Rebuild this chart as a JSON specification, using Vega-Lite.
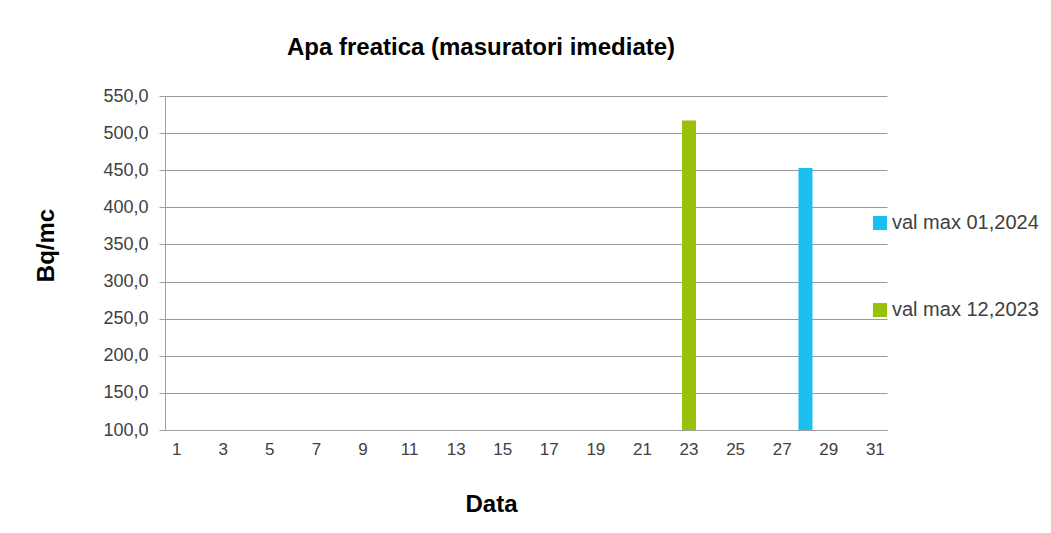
{
  "$schema": "https://vega.github.io/schema/vega-lite/v6.json",
  "width": 722,
  "height": 334,
  "autosize": "none",
  "padding": {"left": 165, "top": 96, "right": 164, "bottom": 103},
  "background": "white",
  "title": {
    "text": "Apa freatica (masuratori imediate)",
    "font": "Liberation Sans",
    "fontSize": 24,
    "fontWeight": "bold",
    "color": "#000000",
    "anchor": "middle",
    "dx": -45,
    "offset": 27
  },
  "data": {
    "values": [
      {"zi": 23, "valoare": 517, "serie": "val max 12,2023"},
      {"zi": 28, "valoare": 453, "serie": "val max 01,2024"}
    ]
  },
  "mark": {"type": "bar", "width": 14, "clip": true},
  "encoding": {
    "x": {
      "field": "zi",
      "type": "ordinal",
      "scale": {"domain": [1,2,3,4,5,6,7,8,9,10,11,12,13,14,15,16,17,18,19,20,21,22,23,24,25,26,27,28,29,30,31], "paddingInner": 0, "paddingOuter": 0},
      "axis": {
        "title": "Data",
        "values": [1,3,5,7,9,11,13,15,17,19,21,23,25,27,29,31],
        "labelAngle": 0,
        "ticks": false,
        "labelPadding": 11,
        "titlePadding": 35,
        "titleX": 326,
        "domainColor": "#a0a0a0",
        "grid": false
      }
    },
    "y": {
      "field": "valoare",
      "type": "quantitative",
      "scale": {"domain": [100, 550], "zero": false, "nice": false},
      "axis": {
        "title": "Bq/mc",
        "values": [100,150,200,250,300,350,400,450,500,550],
        "labelExpr": "replace(format(datum.value, '.1f'), '.', ',')",
        "tickSize": 6,
        "labelPadding": 11,
        "labelFontSize": 18,
        "titlePadding": 44,
        "titleY": 149,
        "domain": true,
        "domainColor": "#a0a0a0",
        "tickColor": "#a0a0a0",
        "gridColor": "#999999",
        "gridWidth": 1
      }
    },
    "y2": {"datum": 100},
    "color": {
      "field": "serie",
      "type": "nominal",
      "scale": {"domain": ["val max 01,2024", "val max 12,2023"], "range": ["#1CC0F0", "#99C00A"]},
      "legend": {
        "title": null,
        "orient": "none",
        "legendX": 705,
        "legendY": 117,
        "symbolType": "square",
        "symbolSize": 200,
        "symbolStrokeWidth": 0,
        "rowPadding": 67,
        "labelFontSize": 20,
        "labelOffset": 2,
        "labelFont": "Liberation Sans",
        "labelColor": "#404040"
      }
    }
  },
  "config": {
    "view": {"stroke": null},
    "axis": {
      "labelFont": "Liberation Sans",
      "labelFontSize": 17,
      "labelColor": "#404040",
      "titleFont": "Liberation Sans",
      "titleFontSize": 24,
      "titleFontWeight": "bold",
      "titleColor": "#000000"
    }
  }
}
